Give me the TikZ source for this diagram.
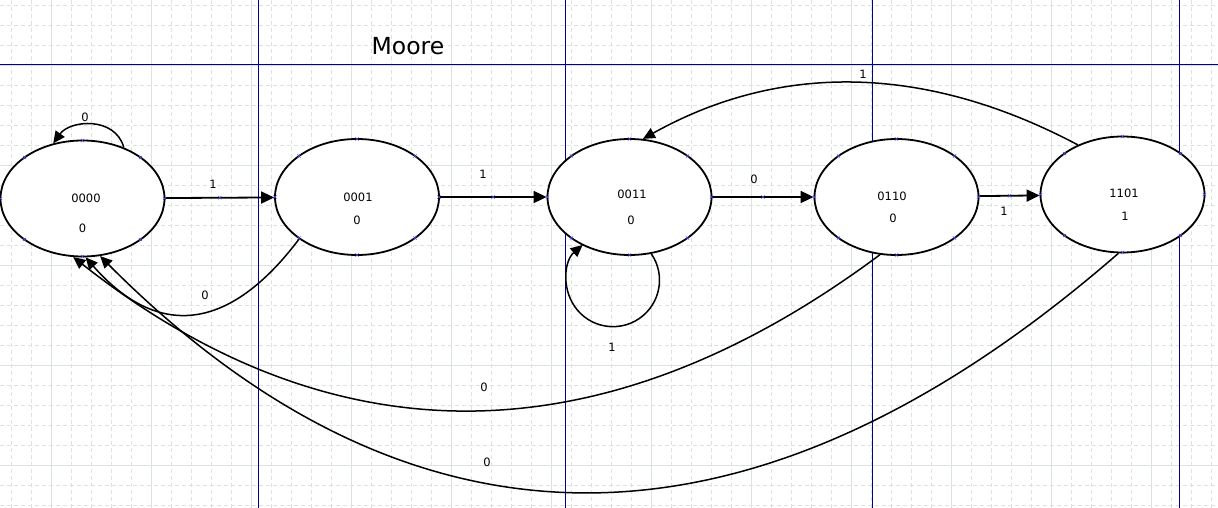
\documentclass[tikz,border=0pt]{standalone}
\usepackage{fontspec}
\setmainfont{DejaVu Sans}
\usetikzlibrary{shapes.geometric,arrows.meta,calc}
\definecolor{gridc}{RGB}{218,226,226}
\definecolor{pagec}{RGB}{0,0,140}
\definecolor{markc}{RGB}{70,70,235}
\begin{document}
\begin{tikzpicture}[x=1pt,y=-1pt,
  state/.style={ellipse,draw=black,line width=1.8pt,fill=white,minimum width=164pt,minimum height=116pt,inner sep=0pt},
  txt/.style={inner sep=0pt,font=\fontsize{11.5}{13}\selectfont},
  title/.style={inner sep=0pt,font=\fontsize{23.5}{26}\selectfont},
  edge/.style={line width=1.8pt,-{Triangle[length=13pt,width=12pt]}},
  curve/.style={line width=1.5pt,-{Triangle[length=12pt,width=11pt]}},
  minor/.style={gridc,line width=0.7pt,dash pattern=on 4pt off 3pt},
  major/.style={gridc,line width=0.9pt},
  pageline/.style={pagec,line width=1pt},
  xmark/.style={markc,line width=0.5pt}]
\useasboundingbox (0,0) rectangle (1218,508);
\fill[white] (0,0) rectangle (1218,508);
% grid
\foreach \x in {11.7,31.7,...,1211.7} \draw[minor] (\x,0) -- (\x,508);
\foreach \y in {5,25,...,505} \draw[minor] (0,\y) -- (1218,\y);
\foreach \x in {51.7,151.7,...,1151.7} \draw[major] (\x,0) -- (\x,508);
\foreach \y in {65,165,...,465} \draw[major] (0,\y) -- (1218,\y);
% page lines
\foreach \x in {258,565,872,1179} \draw[pageline] (\x,0) -- (\x,508);
\draw[pageline] (0,65) -- (1218,65);
% title
\node[title] (ttl) at (408,46) {Moore};
% states
\node[state] (s0) at (82.5,198.5) {};
\node[state] (s1) at (357,197) {};
\node[state] (s2) at (629.5,197) {};
\node[state] (s3) at (896.5,197) {};
\node[state] (s4) at (1122.5,194.5) {};
% state texts
\node[txt] (s0a) at (86,198) {0000};
\node[txt] (s0b) at (82.5,228) {0};
\node[txt] (s1a) at (358,197) {0001};
\node[txt] (s1b) at (357,220) {0};
\node[txt] (s2a) at (632,194.5) {0011};
\node[txt] (s2b) at (631,220) {0};
\node[txt] (s3a) at (892,196) {0110};
\node[txt] (s3b) at (893,218) {0};
\node[txt] (s4a) at (1124,193) {1101};
\node[txt] (s4b) at (1125,216) {1};
% edges
\draw[edge] (s0) -- (s1);
\draw[edge] (s1) -- (s2);
\draw[edge] (s2) -- (s3);
\draw[edge] (s3) -- (s4);
\draw[curve] (s4.132) .. controls (925.5,64.1) and (780.3,62.1) .. (s2.77);
\draw[curve] (s0.51) .. controls (115,116) and (70,120) .. (s0.118);
\draw[curve] (s1.-144) .. controls (228.5,332.8) and (157,338.7) .. (s0.-87.5);
\draw[curve] (s2.-69) arc[start angle=-34.5,end angle=229.3,radius=46.5];
\draw[curve] (s3.-106) .. controls (602.3,461.3) and (333.3,461.9) .. (s0.-99.4);
\draw[curve] (s4.-94.4) .. controls (753.7,570.6) and (414,571.3) .. (s0.-73.7);
% edge labels
\node[txt] (e01) at (213,184) {1};
\node[txt] (e12) at (483,174) {1};
\node[txt] (e23) at (754,179) {0};
\node[txt] (e34) at (1004,211) {1};
\node[txt] (e42) at (863,74) {1};
\node[txt] (e00) at (85,117) {0};
\node[txt] (e10) at (205,295) {0};
\node[txt] (e22) at (612,347) {1};
\node[txt] (e30) at (484,387) {0};
\node[txt] (e40) at (487,462) {0};
% connection markers
\foreach \s in {s0,s1,s2,s3,s4}
  \foreach \a in {0,45,...,315}
    \draw[xmark] ($(\s.center)+({82*cos(\a)},{58*sin(\a)})$) +(-1.6,-1.6) -- +(1.6,1.6) +(-1.6,1.6) -- +(1.6,-1.6);
\path (s0.center) -- (s1.center) coordinate[pos=.5] (m01);
\path (s1.center) -- (s2.center) coordinate[pos=.5] (m12);
\path (s2.center) -- (s3.center) coordinate[pos=.5] (m23);
\path (s3.center) -- (s4.center) coordinate[pos=.5] (m34);
\foreach \m in {m01,m12,m23,m34}
  \draw[xmark] (\m) +(-1.6,-1.6) -- +(1.6,1.6) +(-1.6,1.6) -- +(1.6,-1.6);
\end{tikzpicture}
\end{document}
